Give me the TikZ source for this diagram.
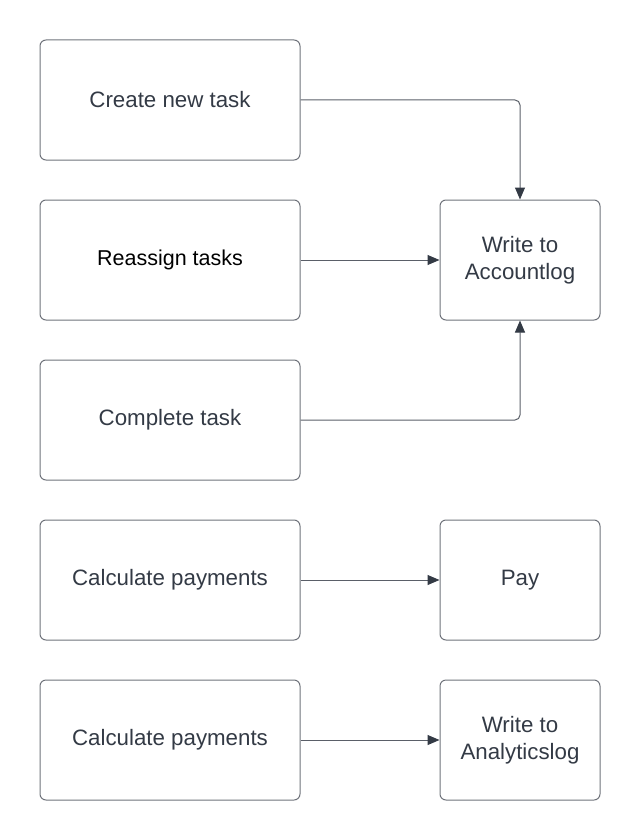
\documentclass[tikz,border=0pt]{standalone}
\usepackage{fontspec}
\setmainfont{Liberation Sans}
\usetikzlibrary{arrows.meta}
\definecolor{txt}{HTML}{333A45}
\definecolor{bord}{HTML}{6F737B}
\definecolor{wire}{HTML}{5A5F68}
\begin{document}
\begin{tikzpicture}[x=1pt,y=-1pt,
  box/.style={draw=bord,line width=1pt,rounded corners=6pt,inner sep=0pt,
    text=txt,align=center,font=\fontsize{22.3}{27}\selectfont},
  lbox/.style={box,minimum width=260pt,minimum height=120pt},
  rbox/.style={box,minimum width=160pt,minimum height=120pt},
  conn/.style={draw=wire,line width=1pt,rounded corners=5pt,
    -{Triangle[length=12pt,width=10pt,color=txt]}}]
\useasboundingbox (0,0) rectangle (640,840);
\node[lbox] (create) at (170,100) {Create new task};
\node[lbox,text=black,font=\fontsize{21.5}{27}\selectfont] (reassign) at (170,260) {Reassign tasks};
\node[lbox] (complete) at (170,420) {Complete task};
\node[lbox] (calc1) at (170,580) {Calculate payments};
\node[lbox] (calc2) at (170,740) {Calculate payments};
\node[rbox] (acct) at (520,260) {Write to\\Accountlog};
\node[rbox] (pay) at (520,580) {Pay};
\node[rbox] (anal) at (520,740) {Write to\\Analyticslog};
\draw[conn] (create.east) -| (acct.north);
\draw[conn] (reassign.east) -- (acct.west);
\draw[conn] (complete.east) -| (acct.south);
\draw[conn] (calc1.east) -- (pay.west);
\draw[conn] (calc2.east) -- (anal.west);
\end{tikzpicture}
\end{document}
